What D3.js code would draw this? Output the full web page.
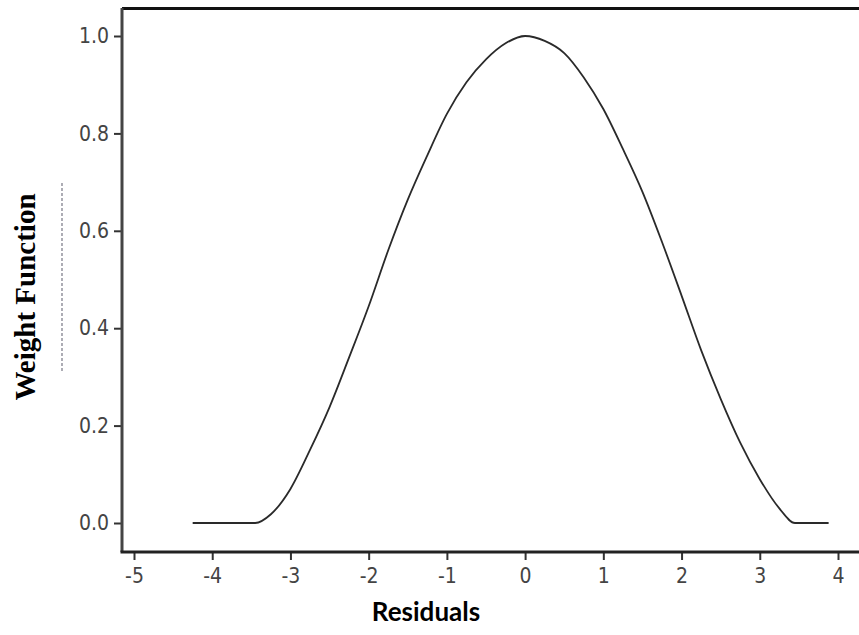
<!DOCTYPE html>
<html>
<head>
<meta charset="utf-8">
<script src="https://cdn.jsdelivr.net/npm/d3@7"></script>
<style>
  html, body { margin: 0; padding: 0; background: #fff; }
  svg { display: block; }
</style>
</head>
<body>
<svg id="chart" width="859" height="635"></svg>
<script>
// Residual values along the horizontal axis and the weight given to each
const residuals = [-4.25, -3.45, -3.25, -3.0, -2.75, -2.5, -2.25, -2.0, -1.75, -1.5, -1.25, -1.0, -0.75, -0.5, -0.25, 0.0,
                   0.25, 0.5, 0.75, 1.0, 1.25, 1.5, 1.75, 2.0, 2.25, 2.5, 2.75, 3.0, 3.25, 3.45, 3.88];
const weights   = [0.0, 0.0, 0.018, 0.07, 0.15, 0.238, 0.34, 0.445, 0.56, 0.664, 0.755, 0.84, 0.905, 0.952, 0.985, 1.0,
                   0.99, 0.965, 0.915, 0.85, 0.768, 0.68, 0.577, 0.467, 0.355, 0.255, 0.165, 0.09, 0.03, 0.0, 0.0];
const xTicks = [-5, -4, -3, -2, -1, 0, 1, 2, 3, 4];
const yTicks = [0.0, 0.2, 0.4, 0.6, 0.8, 1.0];

const svg = d3.select("#chart");
const plotLeft = 122, plotRight = 859, plotTop = 8, plotBottom = 552;

const x = d3.scaleLinear().domain([-5, 4]).range([134, 838]);
const y = d3.scaleLinear().domain([0, 1]).range([523, 36]);

const tickFont = "'DejaVu Sans Condensed', 'DejaVu Sans', sans-serif";

// Dashed guide left of the value axis
svg.append("line")
  .attr("x1", 62).attr("x2", 62).attr("y1", 183).attr("y2", 373)
  .attr("stroke", "#556").attr("stroke-width", 1.2)
  .attr("stroke-dasharray", "3,2").attr("opacity", 0.8);

// Top frame line
svg.append("line")
  .attr("x1", plotLeft).attr("x2", plotRight).attr("y1", plotTop + 0.5).attr("y2", plotTop + 0.5)
  .attr("stroke", "#111").attr("stroke-width", 3);

// Y axis
const yAxis = svg.append("g")
  .attr("transform", `translate(${plotLeft},0)`)
  .call(d3.axisLeft(y).tickValues(yTicks).tickFormat(d3.format(".1f")).tickSize(8).tickSizeOuter(0));
yAxis.select(".domain").remove();
yAxis.append("line")
  .attr("x1", 0).attr("x2", 0).attr("y1", plotTop).attr("y2", plotBottom)
  .attr("stroke", "#444").attr("stroke-width", 3);
yAxis.selectAll(".tick line").attr("stroke", "#333").attr("stroke-width", 2);
yAxis.selectAll(".tick text")
  .attr("x", -13)
  .attr("fill", "#444")
  .style("font-family", tickFont)
  .style("font-size", "21px");

// X axis
const xAxis = svg.append("g")
  .attr("transform", `translate(0,${plotBottom})`)
  .call(d3.axisBottom(x).tickValues(xTicks).tickFormat(d3.format("d")).tickSize(8).tickSizeOuter(0));
xAxis.select(".domain").remove();
xAxis.append("line")
  .attr("x1", plotLeft - 1.5).attr("x2", plotRight).attr("y1", 0).attr("y2", 0)
  .attr("stroke", "#222").attr("stroke-width", 3);
xAxis.selectAll(".tick line").attr("stroke", "#333").attr("stroke-width", 2);
xAxis.selectAll(".tick text")
  .attr("y", 16)
  .attr("fill", "#444")
  .style("font-family", tickFont)
  .style("font-size", "21px")
  .text(d => d < 0 ? "-" + Math.abs(d) : String(d));

// Weight curve
const line = d3.line()
  .x((d, i) => x(residuals[i]))
  .y(d => y(d))
  .curve(d3.curveMonotoneX);

svg.append("path")
  .datum(weights)
  .attr("d", line)
  .attr("fill", "none")
  .attr("stroke", "#2a2a2a")
  .attr("stroke-width", 1.8)
  .attr("stroke-linejoin", "round");

// Axis titles
svg.append("text")
  .attr("x", 426).attr("y", 621)
  .attr("text-anchor", "middle")
  .style("font-family", "Lato, 'Open Sans', sans-serif")
  .style("font-weight", "bold")
  .style("font-size", "26px")
  .attr("fill", "#000")
  .text("Residuals");

svg.append("text")
  .attr("transform", "translate(35,297) rotate(-90)")
  .attr("text-anchor", "middle")
  .style("font-family", "'Liberation Serif', 'Times New Roman', serif")
  .style("font-weight", "bold")
  .style("font-size", "29px")
  .attr("fill", "#000")
  .text("Weight Function");
</script>
</body>
</html>
